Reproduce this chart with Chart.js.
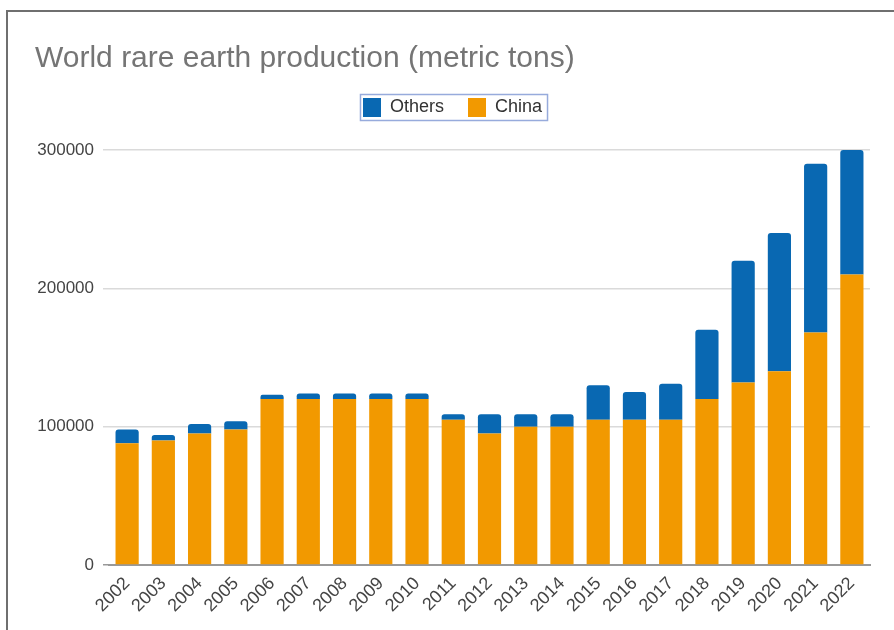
<!DOCTYPE html>
<html>
<head>
<meta charset="utf-8">
<script src="https://cdn.jsdelivr.net/npm/chart.js@4.4.1/dist/chart.umd.min.js"></script>
<style>
  body { margin: 0; background: #fff; }
  #frame {
    position: absolute; left: 6px; top: 10px;
    width: 886px; height: 618px;
    border-left: 2px solid #6f6f6f; border-top: 2px solid #6f6f6f;
  }
  canvas { display: block; }
</style>
</head>
<body>
<div id="frame"><canvas id="chart" width="886" height="618"></canvas></div>
<script>
const years = ['2002', '2003', '2004', '2005', '2006', '2007', '2008', '2009', '2010', '2011', '2012',
               '2013', '2014', '2015', '2016', '2017', '2018', '2019', '2020', '2021', '2022'];
const china = [88000, 90000, 95000, 98000, 120000, 120000, 120000, 120000, 120000, 105000, 95000,
               100000, 100000, 105000, 105000, 105000, 120000, 132000, 140000, 168000, 210000];
const others = [10000, 4000, 7000, 6000, 3000, 4000, 4000, 4000, 4000, 4000, 14000,
                9000, 9000, 25000, 20000, 26000, 50000, 88000, 100000, 122000, 90000];
const yTicks = [0, 100000, 200000, 300000];

const FONT = 'Arial, "Liberation Sans", sans-serif';

// legend sits closer to the plot than chart.js wants, and has a thin frame round it
const legendBox = {
  id: 'legendBox',
  beforeInit(chart) {
    const fit = chart.legend.fit;
    chart.legend.fit = function () {
      fit.call(this);
      this.height = 76;
    };
  },
  afterDraw(chart) {
    const boxes = chart.legend.legendHitBoxes;
    if (!boxes || !boxes.length) return;
    const first = boxes[0], last = boxes[boxes.length - 1];
    const ctx = chart.ctx;
    ctx.save();
    ctx.strokeStyle = '#97abdc';
    ctx.lineWidth = 1.5;
    ctx.strokeRect(first.left - 2.5, first.top - 3.5,
                   last.left + last.width - first.left + 8, first.height + 7);
    ctx.restore();
  }
};

new Chart(document.getElementById('chart'), {
  type: 'bar',
  data: {
    labels: years,
    datasets: [
      {
        label: 'China',
        data: china,
        backgroundColor: '#f29900',
        borderRadius: 0,
        borderSkipped: false
      },
      {
        label: 'Others',
        data: others,
        backgroundColor: '#0968b2',
        borderRadius: { topLeft: 3, topRight: 3, bottomLeft: 0, bottomRight: 0 },
        borderSkipped: false
      }
    ]
  },
  options: {
    responsive: false,
    animation: false,
    layout: { padding: { left: 27, right: 24, top: 0, bottom: 7 } },
    datasets: { bar: { barPercentage: 0.64, categoryPercentage: 1 } },
    plugins: {
      title: {
        display: true,
        text: 'World rare earth production (metric tons)',
        align: 'start',
        color: '#757575',
        font: { family: FONT, size: 30, weight: 'normal', lineHeight: 1 },
        padding: { top: 32, bottom: 0 }
      },
      legend: {
        position: 'top',
        labels: {
          color: '#333',
          font: { family: FONT, size: 18 },
          boxWidth: 18,
          boxHeight: 19,
          padding: 24,
          sort: (a, b) => b.datasetIndex - a.datasetIndex
        }
      },
      tooltip: { enabled: false }
    },
    scales: {
      x: {
        stacked: true,
        grid: { display: false, drawTicks: false },
        border: { display: true, color: '#999', width: 2 },
        ticks: {
          color: '#444',
          font: { family: FONT, size: 18 },
          autoSkip: false,
          maxRotation: 45,
          minRotation: 45,
          padding: 8
        },
        afterFit(scale) { scale.height = 58; }
      },
      y: {
        stacked: true,
        min: 0,
        max: 300000,
        grid: {
          color: ctx => ctx.tick && ctx.tick.value === 0 ? '#999' : '#dadada',
          lineWidth: 1.5,
          drawTicks: true,
          tickLength: 6,
          tickColor: ctx => ctx.tick && ctx.tick.value === 0 ? '#999' : '#dadada'
        },
        border: { display: false },
        afterBuildTicks(scale) { scale.ticks = yTicks.map(v => ({ value: v })); },
        ticks: {
          color: '#444',
          font: { family: FONT, size: 17 },
          padding: 9,
          callback: v => String(v)
        },
        afterFit(scale) { scale.width = 74; }
      }
    }
  },
  plugins: [legendBox]
});
</script>
</body>
</html>
